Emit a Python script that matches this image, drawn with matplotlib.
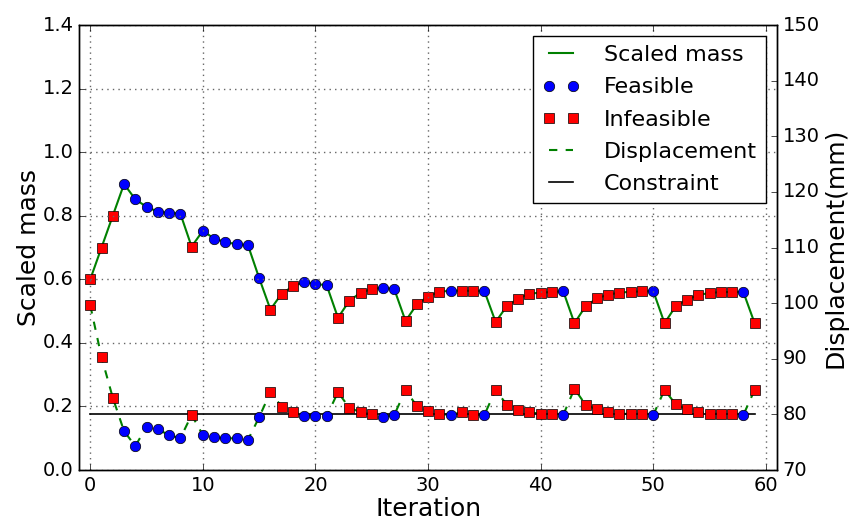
import numpy as np
import matplotlib
matplotlib.use("Agg")
import matplotlib.pyplot as plt

plt.style.use("classic")

# values
iteration = list(range(60))
scaled_mass = [0.600, 0.700, 0.800, 0.900, 0.852, 0.828, 0.813, 0.809, 0.807, 0.703,
               0.753, 0.728, 0.718, 0.710, 0.708, 0.604, 0.505, 0.555, 0.578, 0.592,
               0.586, 0.581, 0.479, 0.532, 0.558, 0.569, 0.574, 0.569, 0.469, 0.521,
               0.546, 0.561, 0.564, 0.564, 0.564, 0.563, 0.466, 0.516, 0.539, 0.555,
               0.558, 0.560, 0.563, 0.462, 0.516, 0.540, 0.552, 0.558, 0.561, 0.562,
               0.563, 0.462, 0.516, 0.536, 0.551, 0.557, 0.560, 0.560, 0.560, 0.462]
displacement = [99.6, 90.3, 83.0, 77.0, 74.3, 77.8, 77.3, 76.3, 75.7, 79.9,
                76.3, 75.9, 75.7, 75.7, 75.4, 79.5, 84.0, 81.4, 80.4, 79.8,
                79.8, 79.7, 84.0, 81.2, 80.4, 80.0, 79.6, 79.9, 84.4, 81.5,
                80.6, 80.1, 79.9, 80.4, 79.9, 79.9, 84.4, 81.7, 80.8, 80.4,
                80.1, 80.1, 79.9, 84.6, 81.7, 80.9, 80.5, 80.1, 80.1, 80.1,
                79.9, 84.4, 81.8, 80.9, 80.5, 80.1, 80.1, 80.0, 79.9, 84.4]
feasible = [0, 0, 0, 1, 1, 1, 1, 1, 1, 0,
            1, 1, 1, 1, 1, 1, 0, 0, 0, 1,
            1, 1, 0, 0, 0, 0, 1, 1, 0, 0,
            0, 0, 1, 0, 0, 1, 0, 0, 0, 0,
            0, 0, 1, 0, 0, 0, 0, 0, 0, 0,
            1, 0, 0, 0, 0, 0, 0, 0, 1, 0]
constraint = 80

x = np.array(iteration)
m = np.array(scaled_mass)
d = np.array(displacement)
ok = np.array(feasible) == 1

fig = plt.figure(figsize=(8.54, 5.23), dpi=100, facecolor="white")
ax1 = fig.add_axes([0.0925, 0.1013, 0.8175, 0.8507])
ax2 = ax1.twinx()

ms = 7.5
ax1.plot(x, m, "g-", lw=1.5, label="Scaled mass")
ax1.plot(x[ok], m[ok], "bo", ms=ms, label="Feasible")
ax1.plot(x[~ok], m[~ok], "rs", ms=ms - 0.5, label="Infeasible")

ax2.plot(x, d, "g--", lw=1.5, label="Displacement")
ax2.plot([x[0], x[-1]], [constraint, constraint], "k-", lw=1.2, label="Constraint")
ax2.plot(x[ok], d[ok], "bo", ms=ms)
ax2.plot(x[~ok], d[~ok], "rs", ms=ms - 0.5)

ax1.set_xlim(-1, 61)
ax1.set_ylim(0, 1.4)
ax2.set_ylim(70, 150)
ax1.set_xticks([0, 10, 20, 30, 40, 50, 60])
ax1.set_yticks(np.arange(0, 1.41, 0.2))
ax2.set_yticks(range(70, 151, 10))
ax1.grid(True, color="0.4", linestyle=":", lw=1.0)

ax1.tick_params(labelsize=14)
ax2.tick_params(labelsize=14)
ax1.set_xlabel("Iteration", fontsize=18, labelpad=2)
ax1.set_ylabel("Scaled mass", fontsize=18, labelpad=1)
ax2.set_ylabel("Displacement(mm)", fontsize=18, labelpad=3)

h1, l1 = ax1.get_legend_handles_labels()
h2, l2 = ax2.get_legend_handles_labels()
ax2.legend(h1 + h2, l1 + l2, loc="upper right", fontsize=16, numpoints=2,
           handlelength=1.7, handletextpad=1.1, labelspacing=0.55)

fig.savefig("out.png", dpi=100, facecolor="white")
